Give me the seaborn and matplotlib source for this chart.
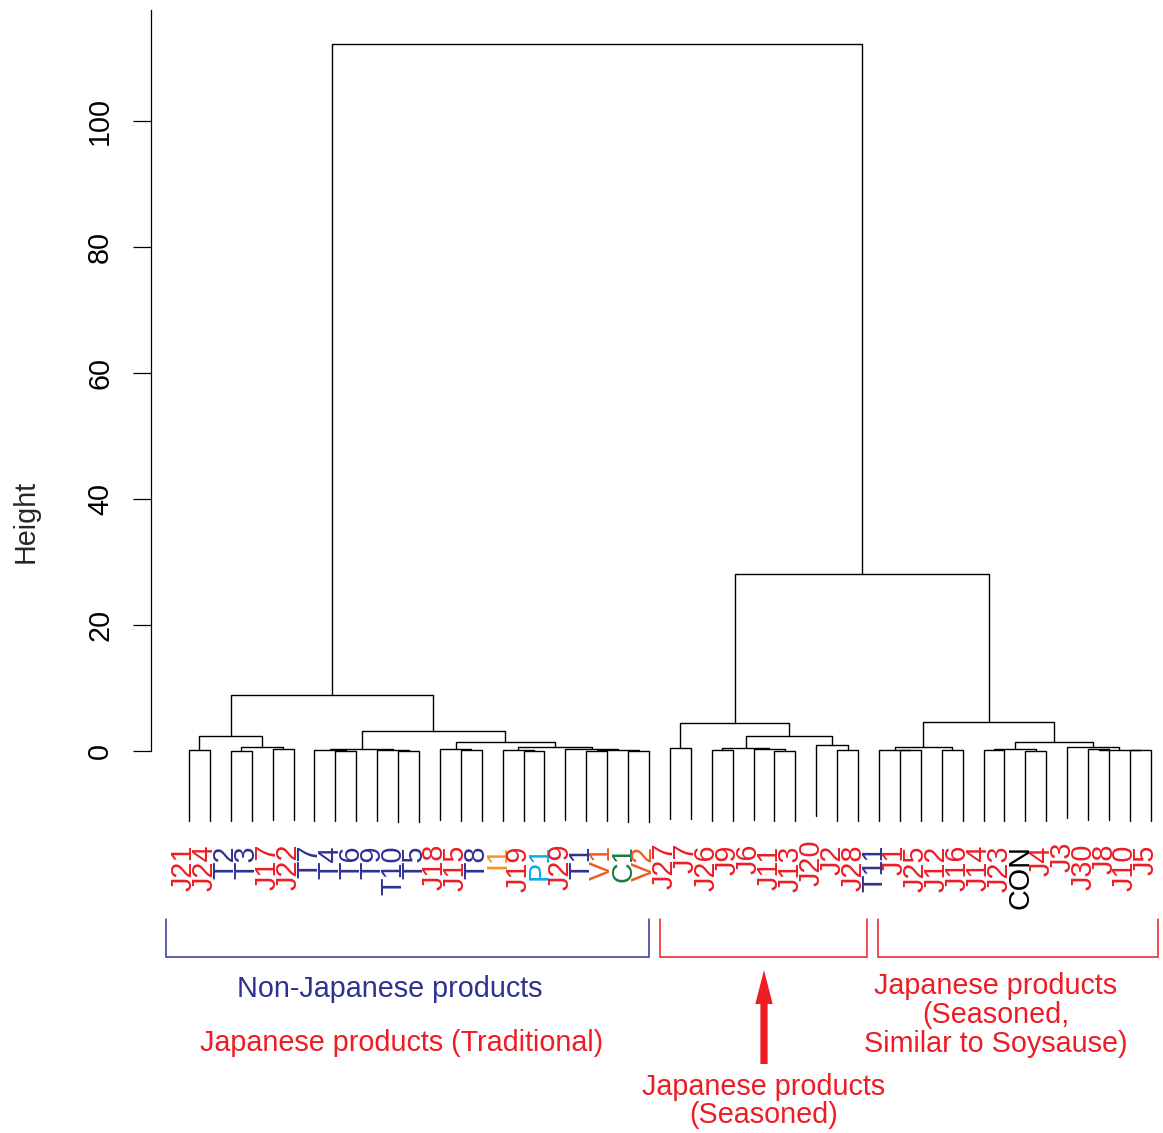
import numpy as np
import pandas as pd
import matplotlib
matplotlib.use("Agg")
import matplotlib.pyplot as plt
import seaborn as sns

# ---------------- data ----------------
leaf_labels = ["J21", "J24", "T2", "T3", "J17", "J22", "T7", "T4", "T6", "T9", "T10", "T5",
               "J18", "J15", "T8", "I1", "J19", "P1", "J29", "T1", "V1", "C1", "V2",
               "J27", "J7", "J26", "J9", "J6", "J11", "J13", "J20", "J2", "J28",
               "T11", "J1", "J25", "J12", "J16", "J14", "J23", "CON", "J4", "J3", "J30",
               "J8", "J10", "J5"]

# R-style merge table: negative = leaf (1-based, in plotted order), positive = earlier merge row
merge_left = [-1, -3, -5, 2, 1, -8, -7, -11, -10, 7, -14, -13, -17, -16, -20, -22, 15, -19, 14, 12,
              10, 5, -24, -26, -29, -28, 24, -32, -31, 27, 23, -35, -34, -37, 33, -39, -41, 36,
              -44, -46, 39, -43, 38, 35, 31, 22]
merge_right = [-2, -4, -6, 3, 4, -9, 6, -12, 8, 9, -15, 11, -18, 13, -21, -23, 16, 17, 18, 19,
               20, 21, -25, -27, -30, 25, 26, -33, 28, 29, 30, -36, 32, -38, 34, -40, -42, 37,
               -45, -47, 40, 41, 42, 43, 44, 45]
merge_height = [0.15, 0.05, 0.3, 0.6, 2.4, 0.05, 0.15, 0.03, 0.1, 0.3, 0.1, 0.3, 0.05, 0.1, 0.05,
                0.02, 0.1, 0.3, 0.68, 1.38, 3.2, 8.9, 0.45, 0.15, 0.05, 0.35, 0.5, 0.15, 0.95,
                2.4, 4.5, 0.1, 0.15, 0.1, 0.6, 0.1, 0.05, 0.3, 0.3, 0.1, 0.2, 0.6, 1.4, 4.6,
                28.1, 112.3]

y_ticks = [0, 20, 40, 60, 80, 100]

group_colors = {"J": "#EE1C25", "T": "#2E3192", "I": "#F7941D", "P": "#00AEEF",
                "V": "#F15A24", "C": "#1B7A3E", "CON": "#000000"}

RED = "#EE1C25"
NAVY = "#2E3192"

# ---------------- layout helpers ----------------
W, H = 1163, 1133
LEAF0_PX, LEAF_STEP_PX = 189.0, 20.91
ZERO_PX, UNIT_PX = 751.0, 6.3


def px2data(px, py):
    return 1 + (px - LEAF0_PX) / LEAF_STEP_PX, (ZERO_PX - py) / UNIT_PX


def fig_xy(px, py):
    return px / W, 1 - py / H


sns.set_style("white")
plt.rcParams["font.family"] = ["Liberation Sans", "DejaVu Sans"]
FS = 20.7

fig = plt.figure(figsize=(W / 100, H / 100), dpi=100)
ax_left, ax_top = 151, 10
ax = fig.add_axes([ax_left / W, 0, (W - ax_left) / W, (H - ax_top) / H])
x_lo, y_top = px2data(ax_left, ax_top)
x_hi, y_lo = px2data(W, H)
ax.set_xlim(x_lo, x_hi)
ax.set_ylim(y_lo, y_top)

# ---------------- dendrogram geometry ----------------
n_leaves = len(leaf_labels)
leaf_x = np.arange(1, n_leaves + 1, dtype=float)
hang = 0.1 * (max(merge_height) - min(merge_height))

node_x = {}
leaf_bottom = np.zeros(n_leaves)
rows = []
for k, (a, b, h) in enumerate(zip(merge_left, merge_right, merge_height), start=1):
    pts = []
    for c in (a, b):
        if c < 0:
            cx = leaf_x[-c - 1]
            cy = h - hang
            leaf_bottom[-c - 1] = cy
        else:
            cx = node_x[c]
            cy = merge_height[c - 1]
        pts.append((cx, cy))
    node_x[k] = (pts[0][0] + pts[1][0]) / 2
    (xa, ya), (xb, yb) = pts
    for order, (px_, py_) in enumerate([(xa, ya), (xa, h), (xb, h), (xb, yb)]):
        rows.append({"seg": k, "order": order, "x": px_, "y": py_})

seg_df = pd.DataFrame(rows)
sns.lineplot(data=seg_df, x="x", y="y", units="seg", estimator=None, sort=False,
             color="black", linewidth=1.0, legend=False, ax=ax)

# leaf labels
for i, lab in enumerate(leaf_labels):
    grp = "CON" if lab == "CON" else lab[0]
    ax.text(leaf_x[i] - 0.24, leaf_bottom[i] - 3.8, lab, rotation=90, ha="center", va="top",
            fontsize=FS, color=group_colors[grp], clip_on=False)

# ---------------- axes styling ----------------
for s in ["top", "right", "bottom"]:
    ax.spines[s].set_visible(False)
ax.spines["left"].set_bounds(0, y_top)
ax.spines["left"].set_linewidth(0.9)
ax.spines["left"].set_color("black")
ax.set_xticks([])
ax.set_yticks(y_ticks)
ax.set_yticklabels([str(t) for t in y_ticks])
ax.tick_params(axis="y", length=13, width=0.9, pad=13.5, labelsize=FS, colors="black", left=True)
for t in ax.get_yticklabels():
    t.set_rotation(90)
    t.set_va("center")
ax.set_xlabel("")
ax.set_ylabel("")
ax.grid(False)

fig.text(*fig_xy(26, 521), "Height", rotation=90, ha="center", va="center", fontsize=FS)

# ---------------- group brackets ----------------
brackets = [((166, 649), NAVY), ((660, 867), RED), ((878, 1158), RED)]
b_top, b_bot = 919, 957
for (x0, x1), col in brackets:
    xs, ys = zip(*[px2data(x0, b_top), px2data(x0, b_bot), px2data(x1, b_bot), px2data(x1, b_top)])
    ax.plot(xs, ys, color=col, lw=1.1, clip_on=False, solid_joinstyle="miter")

# arrow
ax.annotate("", xy=px2data(764, 970), xytext=px2data(764, 1064),
            arrowprops=dict(arrowstyle="simple,head_length=2.45,head_width=1.25,tail_width=0.52",
                            mutation_scale=10, color=RED, lw=0, shrinkA=0, shrinkB=0))

# annotation texts
texts = [
    (390, 997, "Non-Japanese products", NAVY),
    (402, 1051, "Japanese products (Traditional)", RED),
    (995.5, 994, "Japanese products", RED),
    (995.5, 1023, "(Seasoned,", RED),
    (995.5, 1052, "Similar to Soysause)", RED),
    (764, 1095, "Japanese products", RED),
    (764, 1123, "(Seasoned)", RED),
]
for tx, ty, s, col in texts:
    fig.text(*fig_xy(tx, ty), s, ha="center", va="baseline", fontsize=FS, color=col)

fig.savefig("out.png", dpi=100)
